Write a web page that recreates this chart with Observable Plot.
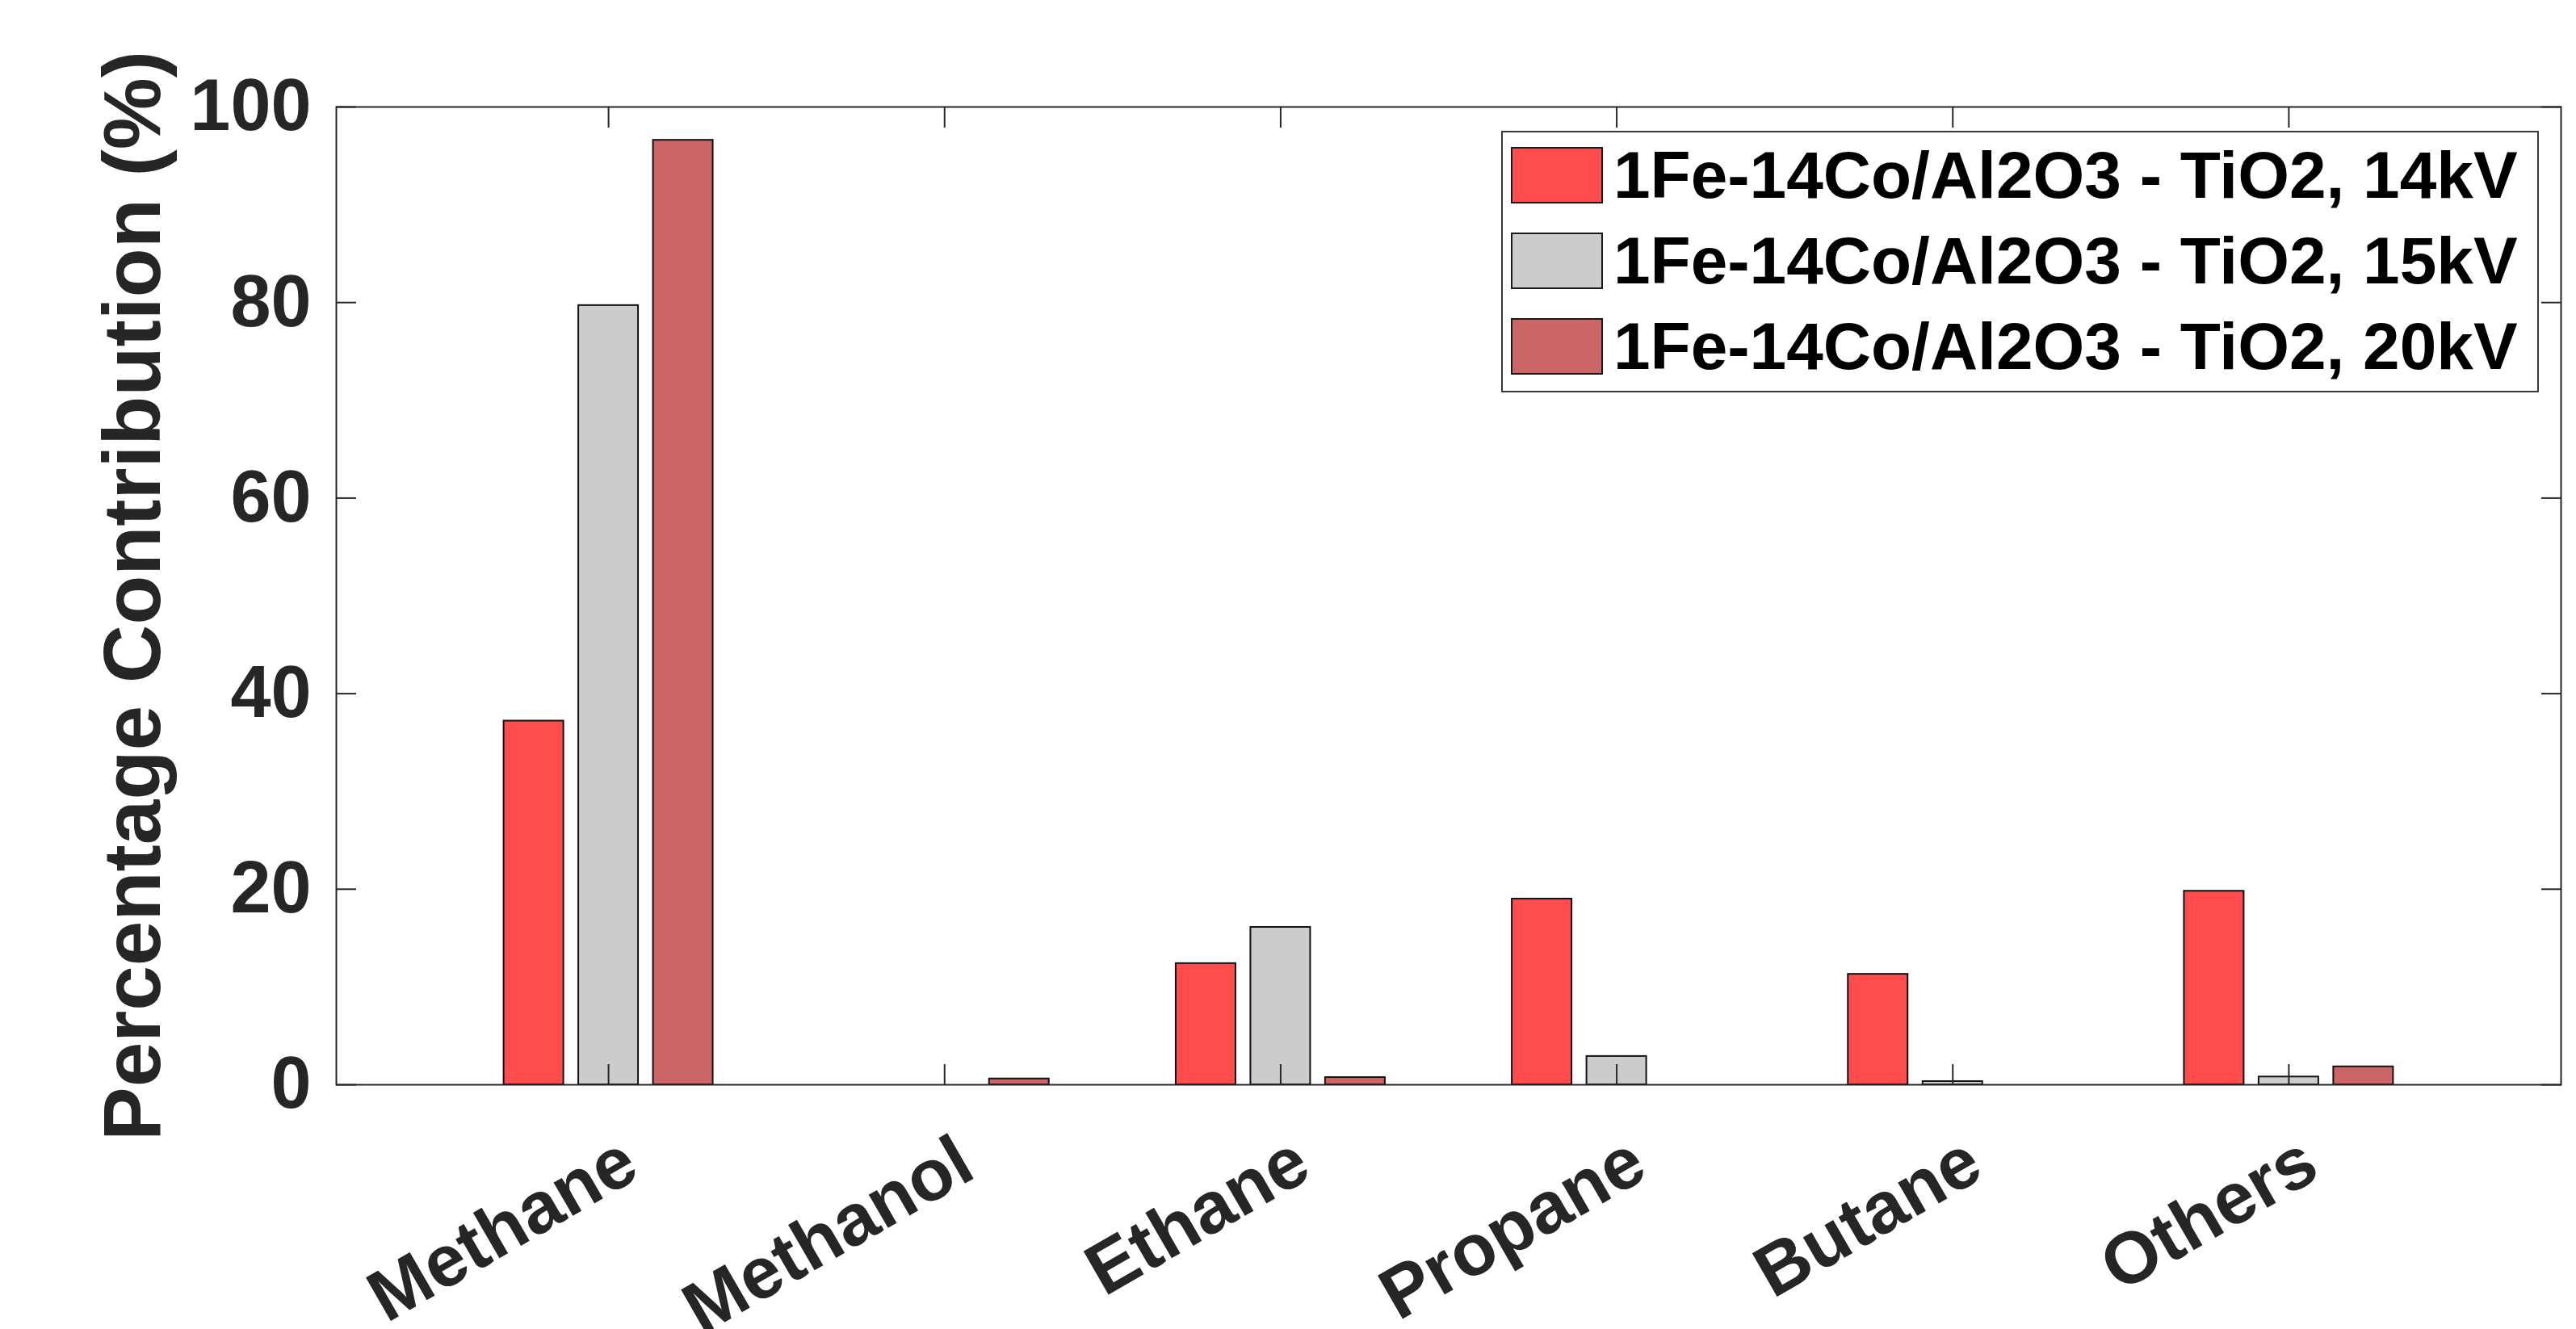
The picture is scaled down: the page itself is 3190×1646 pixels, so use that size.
<!DOCTYPE html>
<html>
<head>
<meta charset="utf-8">
<script src="https://cdn.jsdelivr.net/npm/d3@7"></script>
<script src="https://cdn.jsdelivr.net/npm/@observablehq/plot@0.6"></script>
<style>
  html, body { margin: 0; padding: 0; background: #fff; }
  #wrap { position: relative; width: 3190px; height: 1646px; font-family: "Liberation Sans", Arial, sans-serif; }
  #legend { position: absolute; left: 1859px; top: 162px; width: 1281px; height: 320px; border: 2px solid #3a3a3a; background: #fff; box-sizing: content-box; }
  .row { position: absolute; left: 10px; height: 68px; display: flex; align-items: center; }
  .sw { width: 110px; height: 66px; border: 2px solid #1a1a1a; box-sizing: content-box; }
  .lab { margin-left: 13px; font-size: 82px; font-weight: bold; color: #000; line-height: 1; white-space: nowrap; }
</style>
</head>
<body>
<div id="wrap"></div>
<script>
// ---- data ----
const categories = ["Methane", "Methanol", "Ethane", "Propane", "Butane", "Others"];
const seriesNames = ["1Fe-14Co/Al2O3 - TiO2, 14kV", "1Fe-14Co/Al2O3 - TiO2, 15kV", "1Fe-14Co/Al2O3 - TiO2, 20kV"];
const seriesColors = ["#FF4D4D", "#CCCCCC", "#CC6666"];
const values14kV = [37.2, 0, 12.4, 19.0, 11.3, 19.8];
const values15kV = [79.7, 0, 16.1, 2.9, 0.33, 0.8];
const values20kV = [96.6, 0.6, 0.74, 0, 0, 1.84];
const yTicks = [0, 20, 40, 60, 80, 100];
const yLabel = "Percentage Contribution (%)";

// ---- table (grouped bars, MATLAB-like layout) ----
const seriesValues = [values14kV, values15kV, values20kV];
const groupWidth = 2 / 3;                    // span of one group in category units
const barStep = groupWidth / seriesNames.length;
const barWidth = barStep * 0.8;
const rows = [];
categories.forEach((c, i) => {
  seriesNames.forEach((s, j) => {
    const center = (i + 1) + (j - (seriesNames.length - 1) / 2) * barStep;
    rows.push({category: c, series: s, value: seriesValues[j][i], x1: center - barWidth / 2, x2: center + barWidth / 2});
  });
});
const catTicks = categories.map((c, i) => i + 1);

const axisColor = "#262626";
const font = {fontSize: 90, fontWeight: "bold", fill: axisColor};

const chart = Plot.plot({
  width: 3190,
  height: 1646,
  marginLeft: 416,
  marginRight: 19,
  marginTop: 132,
  marginBottom: 303,
  style: {fontFamily: "'Liberation Sans', Arial, sans-serif", background: "#fff", overflow: "visible"},
  x: {type: "linear", domain: [0.19, 6.81]},
  y: {domain: [0, 100]},
  color: {domain: seriesNames, range: seriesColors},
  marks: [
    Plot.rectY(rows, {x1: "x1", x2: "x2", y1: 0, y2: "value", fill: "series", stroke: "#111", strokeWidth: 2}),
    Plot.frame({stroke: axisColor, strokeWidth: 2}),
    // y ticks inside, left & right
    Plot.axisY({anchor: "left", ticks: yTicks, tickSize: -25, tickPadding: 56, stroke: axisColor, strokeWidth: 2,
      tickFormat: d => String(d), ...font, label: yLabel, labelAnchor: "center", labelOffset: 290, labelArrow: "none"}),
    Plot.axisY({anchor: "right", ticks: yTicks, tickSize: -25, tickFormat: () => "", stroke: axisColor, strokeWidth: 2, label: null}),
    // x ticks inside, bottom & top
    Plot.axisX({anchor: "bottom", ticks: catTicks, tickSize: -25, tickFormat: () => "", stroke: axisColor, strokeWidth: 2, label: null}),
    Plot.axisX({anchor: "top", ticks: catTicks, tickSize: -25, tickFormat: () => "", stroke: axisColor, strokeWidth: 2, label: null}),
    Plot.axisX({anchor: "bottom", ticks: catTicks, tickSize: 0, tickPadding: 88, tickRotate: -30, dx: 27,
      tickFormat: i => categories[i - 1], ...font, label: null})
  ]
});
document.getElementById("wrap").appendChild(chart);

// y-label font size
d3.select(chart).selectAll("g[aria-label='y-axis label'] text").attr("font-size", 100).attr("font-weight", "bold").attr("fill", axisColor);

// ---- legend (inside plot area, top-right) ----
const legend = document.createElement("div");
legend.id = "legend";
seriesNames.forEach((s, j) => {
  const row = document.createElement("div");
  row.className = "row";
  row.style.top = (19 + j * 106) + "px";
  const sw = document.createElement("div");
  sw.className = "sw";
  sw.style.background = seriesColors[j];
  const lab = document.createElement("div");
  lab.className = "lab";
  lab.textContent = s;
  row.appendChild(sw);
  row.appendChild(lab);
  legend.appendChild(row);
});
document.getElementById("wrap").appendChild(legend);
</script>
</body>
</html>
